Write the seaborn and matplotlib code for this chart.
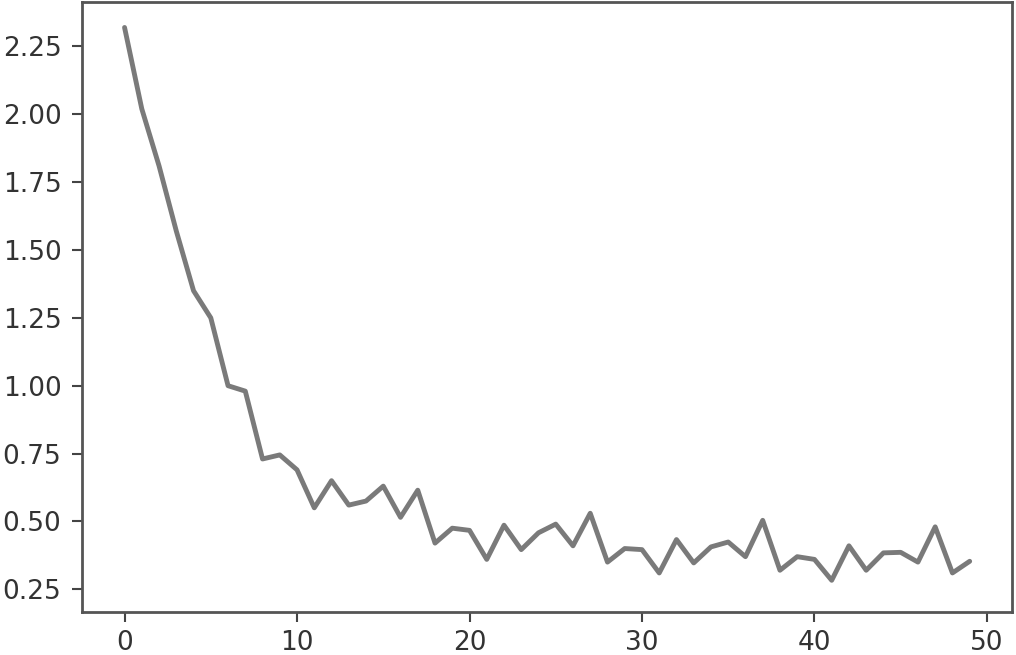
import pandas as pd
import seaborn as sns
import matplotlib
matplotlib.use("Agg")
import matplotlib.pyplot as plt

# loss per epoch
epochs = list(range(50))
loss = [2.32, 2.02, 1.81, 1.57, 1.35, 1.25, 1.00, 0.98, 0.73, 0.745,
        0.69, 0.55, 0.65, 0.56, 0.575, 0.63, 0.515, 0.615, 0.42, 0.475,
        0.467, 0.36, 0.486, 0.396, 0.458, 0.49, 0.41, 0.53, 0.35, 0.40,
        0.396, 0.31, 0.433, 0.347, 0.406, 0.424, 0.37, 0.504, 0.32, 0.37,
        0.36, 0.283, 0.41, 0.32, 0.384, 0.386, 0.35, 0.48, 0.31, 0.353]

df = pd.DataFrame({"epoch": epochs, "loss": loss})

sns.set_style("ticks")
plt.rcParams['font.family'] = ['DejaVu Sans']

fig = plt.figure(figsize=(10.16, 6.55), dpi=100)
ax = fig.add_axes([0.081, 0.066, 0.915, 0.931])

sns.lineplot(data=df, x="epoch", y="loss", color="#7a7a7a", linewidth=3.5, ax=ax)

ax.set_xlabel("")
ax.set_ylabel("")
ax.set_xticks([0, 10, 20, 30, 40, 50])
ax.set_yticks([0.25, 0.5, 0.75, 1.0, 1.25, 1.5, 1.75, 2.0, 2.25])
ax.set_yticklabels(["0.25", "0.50", "0.75", "1.00", "1.25", "1.50", "1.75", "2.00", "2.25"])
ax.set_xlim(-2.45, 51.45)
ax.set_ylim(0.167, 2.414)
ax.tick_params(labelsize=19, length=7, width=1.5, pad=6, colors="#444444", labelcolor="#333333")
ax.tick_params(axis="y", pad=8)
for s in ax.spines.values():
    s.set_visible(True)
    s.set_color("#555555")
    s.set_linewidth(2)

fig.savefig("out.png", dpi=100)
